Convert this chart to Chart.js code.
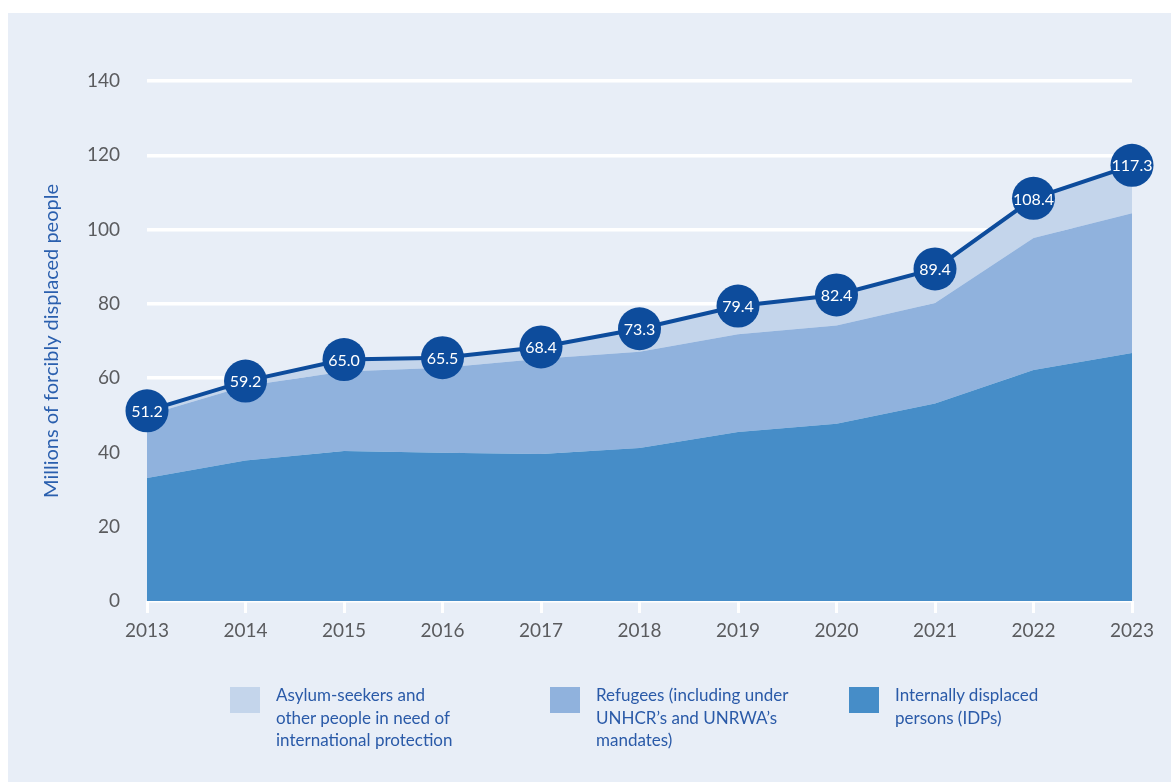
<!DOCTYPE html>
<html>
<head>
<meta charset="utf-8">
<script src="https://cdn.jsdelivr.net/npm/chart.js@4.4.0/dist/chart.umd.min.js"></script>
<style>
    body { margin: 0; background: #ffffff; width: 1171px; height: 782px; overflow: hidden; font-family: Lato, "Open Sans", sans-serif; }
    #panel { position: absolute; left: 8px; top: 13px; width: 1163px; height: 769px; background: #e8eef7; }
    #grafico-desplazados { position: absolute; left: 0; top: 0; }
    .leyenda { position: absolute; top: 684px; }
    .caja { position: absolute; left: 0; top: 3px; width: 30px; height: 26px; }
    .texto { position: absolute; left: 46px; top: 0; font-size: 17px; line-height: 22.7px; color: #2a5aa8; white-space: nowrap; }
</style>
</head>
<body>
<div id="panel"></div>
<canvas id="grafico-desplazados" width="1171" height="782"></canvas>
<div id="leyenda"></div>
<script>
const years = ['2013', '2014', '2015', '2016', '2017', '2018', '2019', '2020', '2021', '2022', '2023'];
// millions of people, per group
const idps = [33.1, 37.8, 40.4, 39.9, 39.6, 41.2, 45.5, 47.7, 53.2, 62.2, 66.8];
const refugees = [16.9, 20.1, 21.4, 22.9, 25.6, 25.9, 26.3, 26.5, 27.0, 35.5, 37.6];
const asylumSeekers = [1.2, 1.3, 3.2, 2.7, 3.2, 6.2, 7.6, 8.2, 9.2, 10.7, 12.9];
const totals = [51.2, 59.2, 65.0, 65.5, 68.4, 73.3, 79.4, 82.4, 89.4, 108.4, 117.3];
const yTicks = [0, 20, 40, 60, 80, 100, 120, 140];

const legendItems = [
    { color: '#c4d5eb', lines: ['Asylum-seekers and', 'other people in need of', 'international protection'], left: 230 },
    { color: '#90b2dd', lines: ['Refugees (including under', 'UNHCR\u2019s and UNRWA\u2019s', 'mandates)'], left: 550 },
    { color: '#468dc8', lines: ['Internally displaced', 'persons (IDPs)'], left: 849 }
];

const FONT = 'Lato, "Open Sans", sans-serif';

// white numbers inside the total circles
const totalLabels = {
    id: 'totalLabels',
    afterDatasetsDraw(chart) {
        const ctx = chart.ctx;
        const meta = chart.getDatasetMeta(0);
        ctx.save();
        ctx.fillStyle = '#ffffff';
        ctx.font = '16px ' + FONT;
        ctx.textAlign = 'center';
        ctx.textBaseline = 'middle';
        meta.data.forEach((pt, i) => {
            ctx.fillText(totals[i].toFixed(1), pt.x, pt.y + 1);
        });
        ctx.restore();
    }
};

const ctx = document.getElementById('grafico-desplazados').getContext('2d');
new Chart(ctx, {
    type: 'line',
    data: {
        labels: years,
        datasets: [{
            label: 'Total',
            data: totals,
            stack: 'total',
            borderColor: '#0d4c9c',
            borderWidth: 4,
            pointRadius: 21.5,
            pointHoverRadius: 21.5,
            pointBackgroundColor: '#0d4c9c',
            pointBorderWidth: 0,
            fill: false,
            clip: false
        }, {
            label: 'Internally displaced persons (IDPs)',
            data: idps,
            backgroundColor: '#468dc8',
            borderWidth: 0,
            pointRadius: 0,
            fill: 'origin'
        }, {
            label: 'Refugees (including under UNHCR\u2019s and UNRWA\u2019s mandates)',
            data: refugees,
            backgroundColor: '#90b2dd',
            borderWidth: 0,
            pointRadius: 0,
            fill: '-1'
        }, {
            label: 'Asylum-seekers and other people in need of international protection',
            data: asylumSeekers,
            backgroundColor: '#c4d5eb',
            borderWidth: 0,
            pointRadius: 0,
            fill: '-1'
        }]
    },
    options: {
        responsive: false,
        animation: false,
        layout: { padding: { left: 40, right: 39, top: 81, bottom: 120 } },
        plugins: {
            legend: { display: false },
            tooltip: { enabled: false }
        },
        elements: { line: { tension: 0 } },
        scales: {
            x: {
                offset: false,
                afterFit(scale) { scale.height = 61; },
                grid: {
                    drawOnChartArea: false,
                    drawTicks: true,
                    tickLength: 12,
                    color: '#ffffff',
                    lineWidth: 3,
                    offset: false
                },
                border: { display: false },
                ticks: {
                    color: '#5a5b5e',
                    font: { family: FONT, size: 19 },
                    padding: 6,
                    maxRotation: 0
                }
            },
            y: {
                stacked: true,
                min: 0,
                max: 140,
                afterFit(scale) { scale.width = 107; },
                afterBuildTicks(scale) { scale.ticks = yTicks.map(v => ({ value: v })); },
                grid: {
                    color: '#ffffff',
                    lineWidth: 3.5,
                    drawTicks: false
                },
                border: { display: false },
                ticks: {
                    color: '#5a5b5e',
                    font: { family: FONT, size: 19 },
                    padding: 27
                },
                title: {
                    display: true,
                    text: 'Millions of forcibly displaced people',
                    color: '#2a5fae',
                    font: { family: FONT, size: 20 },
                    padding: { top: 0, bottom: 0 }
                }
            }
        }
    },
    plugins: [totalLabels]
});

// legend below the chart
const legend = document.getElementById('leyenda');
legendItems.forEach(item => {
    const div = document.createElement('div');
    div.className = 'leyenda';
    div.style.left = item.left + 'px';
    const box = document.createElement('div');
    box.className = 'caja';
    box.style.background = item.color;
    const text = document.createElement('div');
    text.className = 'texto';
    text.innerHTML = item.lines.join('<br>');
    div.appendChild(box);
    div.appendChild(text);
    legend.appendChild(div);
});
</script>
</body>
</html>
